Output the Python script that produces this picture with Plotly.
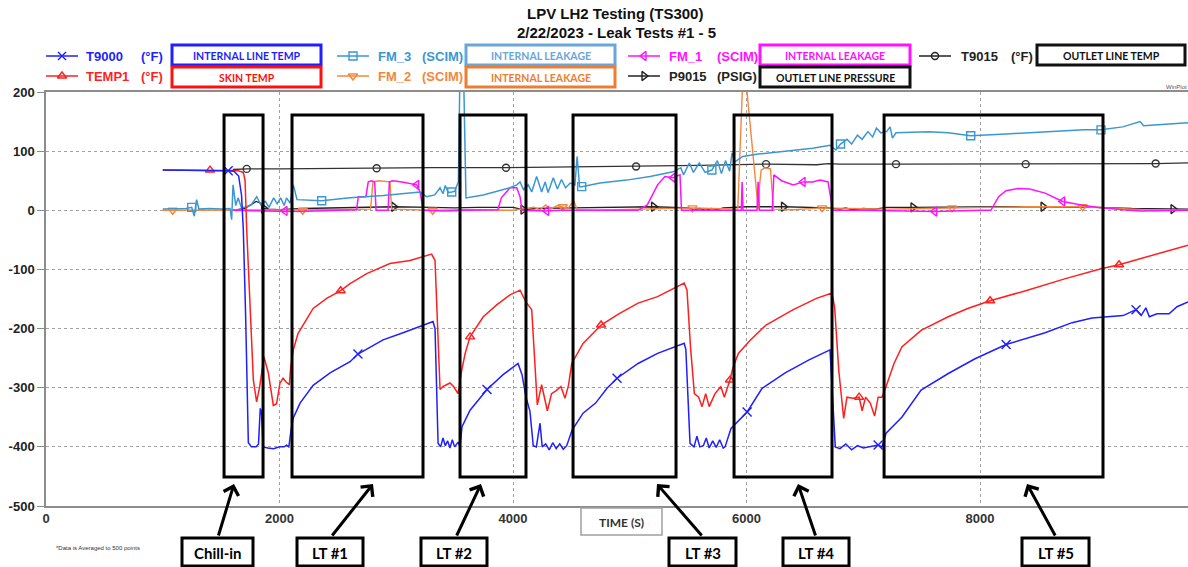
import plotly.graph_objects as go

W, H = 1188, 567

# ---------------- data: (time [s], value) ----------------
T9000 = [(1000,68),(1200,68),(1400,68),(1560,67),(1610,66),(1650,58),(1675,25),(1690,-33),(1710,-180),(1733,-393),
         (1760,-400),(1800,-400),(1820,-395),(1835,-335),(1845,-340),(1860,-400),(1900,-402),(1950,-403),(2000,-400),
         (2040,-400),(2060,-397),(2080,-400),(2100,-370),(2118,-351),(2176,-326),(2288,-296),(2433,-275),(2604,-256),
         (2672,-243),(2887,-219),(3058,-207),(3200,-196),(3315,-188),(3332,-200),(3358,-394),(3380,-400),(3400,-385),
         (3420,-398),(3440,-390),(3460,-402),(3480,-388),(3500,-400),(3530,-392),(3546,-400),(3563,-366),(3632,-338),
         (3777,-303),(3915,-278),(4043,-259),(4077,-278),(4110,-315),(4145,-340),(4173,-398),(4200,-400),(4231,-360),
         (4250,-400),(4280,-395),(4310,-405),(4340,-393),(4370,-403),(4400,-395),(4430,-404),(4460,-398),(4505,-372),
         (4600,-343),(4707,-326),(4805,-301),(4891,-284),(5071,-259),(5238,-242),(5466,-225),(5480,-235),(5516,-394),
         (5550,-400),(5575,-382),(5600,-400),(5630,-398),(5655,-385),(5680,-402),(5710,-390),(5740,-401),(5770,-388),
         (5800,-402),(5816,-400),(5867,-369),(6005,-341),(6133,-301),(6331,-275),(6535,-253),(6715,-236),(6735,-300),
         (6760,-400),(6800,-403),(6850,-395),(6900,-405),(6950,-398),(7000,-402),(7050,-400),(7127,-397),(7160,-400),
         (7195,-377),(7330,-350),(7495,-304),(7728,-276),(7957,-251),(8223,-227),(8557,-207),(8788,-190),(8959,-182),
         (9225,-178),(9336,-168),(9380,-178),(9420,-165),(9450,-180),(9516,-175),(9619,-175),(9687,-163),(9781,-155)]
T9000_MARK = [1560, 2672, 3777, 4891, 6005, 7127, 8223, 9336]

TEMP1 = [(1000,68),(1200,68),(1405,68),(1560,68),(1645,67),(1690,64),(1705,50),(1719,-33),(1747,-146),(1776,-287),
         (1804,-324),(1830,-298),(1867,-248),(1904,-275),(1947,-330),(1975,-327),(2004,-292),(2030,-284),(2055,-290),
         (2084,-295),(2096,-265),(2118,-236),(2159,-208),(2218,-189),(2288,-166),(2404,-149),(2524,-136),(2604,-124),
         (2747,-107),(2946,-90),(3118,-85),(3303,-74),(3332,-85),(3375,-303),(3400,-298),(3430,-295),(3460,-292),
         (3490,-298),(3529,-310),(3560,-271),(3590,-242),(3632,-214),(3745,-180),(3860,-160),(3974,-143),(4060,-135),
         (4110,-155),(4160,-168),(4208,-329),(4245,-295),(4294,-339),(4330,-310),(4370,-305),(4410,-298),(4445,-318),
         (4475,-296),(4503,-259),(4600,-225),(4754,-194),(4906,-175),(5071,-157),(5238,-146),(5371,-132),(5466,-123),
         (5490,-135),(5520,-231),(5553,-310),(5590,-316),(5619,-332),(5650,-310),(5680,-332),(5730,-310),(5780,-298),
         (5810,-316),(5858,-287),(5885,-265),(5930,-242),(6035,-219),(6167,-194),(6400,-168),(6599,-149),(6732,-140),
         (6755,-165),(6790,-271),(6832,-352),(6860,-316),(6910,-318),(6964,-316),(6990,-339),(7020,-316),(7060,-326),
         (7097,-348),(7127,-316),(7160,-316),(7195,-298),(7263,-259),(7330,-231),(7495,-203),(7727,-180),(7894,-166),
         (8086,-153),(8391,-136),(8724,-116),(9036,-99),(9190,-92),(9487,-75),(9781,-59)]
TEMP1_MARK = [1405, 2524, 3632, 4754, 5858, 6964, 8086, 9190]

FM_3 = [(1000,2),(1100,2),(1200,3),(1248,5),(1270,-10),(1290,18),(1310,2),(1400,3),(1500,2),(1576,3),(1590,-16),
        (1602,43),(1625,8),(1645,21),(1675,4),(1720,6),(1760,10),(1805,23),(1840,9),(1880,15),(1910,5),(1950,21),
        (1980,11),(2010,21),(2040,8),(2060,21),(2090,12),(2118,43),(2150,18),(2361,16),(2604,21),(2889,25),(3204,31),
        (3260,23),(3330,26),(3375,38),(3400,28),(3420,42),(3445,30),(3475,31),(3500,32),(3532,48),(3550,300),
        (3570,300),(3597,21),(3745,26),(3974,38),(4032,43),(4060,48),(4090,35),(4130,43),(4160,31),(4202,57),
        (4245,31),(4275,48),(4300,30),(4345,55),(4380,36),(4415,52),(4450,38),(4490,46),(4530,43),(4549,91),
        (4570,40),(4588,40),(4745,46),(4972,51),(5173,57),(5371,65),(5437,72),(5460,60),(5510,80),(5545,64),
        (5595,80),(5645,64),(5703,68),(5750,84),(5785,62),(5820,84),(5855,66),(5876,97),(5900,82),(5968,91),
        (6099,95),(6300,99),(6566,105),(6715,110),(6765,102),(6805,112),(6860,120),(6900,112),(6950,127),(6990,120),
        (7040,133),(7080,124),(7113,139),(7150,131),(7200,133),(7229,141),(7250,122),(7280,131),(7561,133),
        (7727,131),(7920,126),(8222,129),(8557,133),(8890,136),(9036,136),(9222,141),(9371,150),(9400,143),
        (9619,146),(9781,148)]
FM_3_MARK = [1248, 2361, 3475, 4588, 5703, 6805, 7920, 9036]

FM_2 = [(1000,0),(1085,0),(1500,0),(1700,1),(2000,0),(2199,0),(2500,1),(2780,2),(2800,48),(2850,50),(2946,48),
        (2960,2),(3100,1),(3312,0),(3600,1),(4000,0),(4180,5),(4230,1),(4280,9),(4320,2),(4380,8),(4426,6),
        (4470,3),(4520,16),(4550,1),(4700,0),(5000,1),(5300,2),(5537,4),(5700,3),(5925,2),(5975,260),(6100,2),
        (6110,40),(6125,68),(6160,72),(6205,70),(6230,2),(6400,1),(6648,4),(6900,3),(7200,2),(7500,3),(7760,4),
        (8100,5),(8400,6),(8879,6),(9100,4),(9400,1),(9781,0)]
FM_2_MARK = [1085, 2199, 3312, 4426, 5537, 6648, 7760, 8879]

FM_1 = [(1600,0),(1800,-1),(2000,-2),(2047,-1),(2100,-2),(2300,-1),(2600,0),(2660,1),(2675,23),(2740,23),
        (2760,48),(2790,50),(2815,48),(2827,0),(2930,0),(2941,48),(2970,50),(3050,48),(3175,43),(3204,31),
        (3230,0),(3400,-1),(3600,0),(3870,1),(3900,21),(3974,38),(4032,38),(4060,23),(4077,0),(4200,-1),
        (4288,-1),(4400,0),(4700,0),(5071,0),(5150,9),(5238,43),(5301,57),(5371,55),(5430,60),(5443,0),
        (5900,0),(5955,0),(5962,48),(5970,0),(6090,0),(6099,48),(6110,0),(6220,0),(6234,60),(6300,50),
        (6400,43),(6484,48),(6566,48),(6630,51),(6698,48),(6720,23),(6739,0),(7000,0),(7300,-1),(7612,-2),
        (8000,0),(8093,0),(8159,23),(8223,33),(8326,37),(8425,36),(8557,29),(8708,15),(8890,8),(9000,5),
        (9222,1),(9380,-1),(9781,0)]
FM_1_MARK = [2047, 3175, 4288, 5371, 6484, 7612, 8708]

P9015 = [(1600,0),(1700,3),(1760,10),(1800,15),(1840,12),(1865,3),(1900,2),(2000,1),(2200,3),(2500,4),
         (2800,5),(2978,6),(3300,5),(3500,4),(3700,5),(4000,5),(4086,1),(4200,3),(4500,4),(4800,5),(5204,6),
         (5500,4),(5550,1),(5600,3),(5650,0),(5700,3),(5750,1),(5800,4),(6000,6),(6317,6),(6500,5),(6700,4),
         (6800,2),(6850,4),(6900,1),(7000,3),(7100,2),(7200,5),(7426,5),(7800,6),(8200,6),(8540,6),(9000,5),
         (9300,3),(9653,2),(9781,2)]
P9015_MARK = [1865, 2978, 4086, 5204, 6317, 7426, 8540, 9653]

T9015 = [(1600,69),(1719,70),(2000,70),(2500,71),(2832,71),(3300,72),(3940,72),(4500,73),(5054,74),(5600,76),
         (6167,78),(6600,77),(6700,79),(6800,78),(7280,78),(7800,78),(8391,78),(9000,79),(9504,79),(9781,80)]
T9015_MARK = [1719, 2832, 3940, 5054, 6167, 7280, 8391, 9504]

# highlighted test windows (time start, time end) and labels
WINDOWS = [(1525, 1859), (2107, 3229), (3546, 4111), (4514, 5396), (5893, 6732), (7178, 9053)]
WINDOW_LABELS = ["Chill-in", "LT #1", "LT #2", "LT #3", "LT #4", "LT #5"]
WIN_Y = (-451, 161)

X_TICKS = [0, 2000, 4000, 6000, 8000]
Y_TICKS = [200, 100, 0, -100, -200, -300, -400, -500]
Y_RANGE = [-500, 200]
X_RANGE = [0, 9781]

# ---------------- colours ----------------
C_BLUE = '#1f1fff'
C_RED = '#ff1f1f'
C_CYAN = '#3b97d3'
C_ORANGE = '#f2883c'
C_MAG = '#ff10ff'
C_BLACK = '#222222'

FONT = 'Liberation Sans, Arial, sans-serif'
CAL = 'Lato, Carlito, sans-serif'

fig = go.Figure()


def add_series(pairs, marks, color, symbol, width=1.5, msize=8):
    xs = [p[0] for p in pairs]
    ys = [p[1] for p in pairs]
    fig.add_trace(go.Scatter(x=xs, y=ys, mode='lines', line=dict(color=color, width=width),
                             hoverinfo='skip', xaxis='x', yaxis='y'))
    mx = [p[0] for p in pairs if p[0] in marks]
    my = [p[1] for p in pairs if p[0] in marks]
    fig.add_trace(go.Scatter(x=mx, y=my, mode='markers',
                             marker=dict(symbol=symbol, size=msize, color=color,
                                         line=dict(color=color, width=1.4)),
                             hoverinfo='skip', xaxis='x', yaxis='y'))


add_series(T9015, T9015_MARK, '#333333', 'circle-open', 1.3, 7)
add_series(P9015, P9015_MARK, C_BLACK, 'triangle-right-open', 1.3)
add_series(FM_2, FM_2_MARK, C_ORANGE, 'triangle-down-open', 1.4)
add_series(FM_1, FM_1_MARK, C_MAG, 'triangle-left-open', 1.5)
add_series(FM_3, FM_3_MARK, C_CYAN, 'square-open', 1.5)
add_series(TEMP1, TEMP1_MARK, C_RED, 'triangle-up-open', 1.5)
add_series(T9000, T9000_MARK, C_BLUE, 'x-thin-open', 1.5, 9)

shapes = []
annotations = []

# test window rectangles (data coordinates)
for (t0, t1) in WINDOWS:
    shapes.append(dict(type='rect', xref='x', yref='y', x0=t0, x1=t1, y0=WIN_Y[0], y1=WIN_Y[1],
                       line=dict(color='black', width=3), fillcolor='rgba(0,0,0,0)', layer='above'))

# ---- overlay (pixel coordinates) decorations ----
def ptxt(x, y, text, size, color, anchor='left', family=FONT, bold=True):
    annotations.append(dict(xref='x2', yref='y2', x=x, y=y, text=text, showarrow=False,
                            xanchor=anchor, yanchor='middle', borderpad=0,
                            font=dict(family=family, size=size, color=color,
                                      weight='bold' if bold else 'normal')))


def pbox(x0, y0, x1, y1, color, width=3, text=None, tcolor=None, size=10):
    shapes.append(dict(type='rect', xref='x2', yref='y2', x0=x0, x1=x1, y0=y0, y1=y1,
                       line=dict(color=color, width=width), fillcolor='white', layer='above'))
    if text:
        ptxt((x0 + x1) / 2, (y0 + y1) / 2 + 0.5, text, size, tcolor or color, 'center', CAL)


# titles
ptxt(615, 13, 'LPV LH2 Testing (TS300)', 15, '#111', 'center')
ptxt(616, 32, '2/22/2023 - Leak Tests #1 - 5', 15, '#111', 'center')

# legend entries: name, unit, colour, symbol, line x0, y, name x, unit x, box x0, box x1, box text, box colour
LEG = [
    ('T9000', '(°F)', C_BLUE, 'x-thin-open', 46, 56, 85, 140, 172, 321, 'INTERNAL LINE TEMP', '#1f1fff'),
    ('TEMP1', '(°F)', C_RED, 'triangle-up-open', 46, 76, 85, 140, 172, 321, 'SKIN TEMP', '#ff1010'),
    ('FM_3', '(SCIM)', C_CYAN, 'square-open', 337, 56, 377, 421, 466, 615, 'INTERNAL LEAKAGE', '#6aa6da'),
    ('FM_2', '(SCIM)', C_ORANGE, 'triangle-down-open', 337, 76, 377, 421, 466, 615, 'INTERNAL LEAKAGE', '#ee7d32'),
    ('FM_1', '(SCIM)', C_MAG, 'triangle-left-open', 628, 56, 668, 716, 760, 910, 'INTERNAL LEAKAGE', '#ff10ff'),
    ('P9015', '(PSIG)', C_BLACK, 'triangle-right-open', 628, 76, 668, 716, 760, 910, 'OUTLET LINE PRESSURE', '#111111'),
    ('T9015', '(°F)', C_BLACK, 'circle-open', 919, 56, 960, 1010, 1037, 1185, 'OUTLET LINE TEMP', '#111111'),
]
for name, unit, col, sym, lx, ly, nx, ux, bx0, bx1, btxt, bcol in LEG:
    fig.add_trace(go.Scatter(x=[lx, lx + 32], y=[ly, ly], mode='lines', line=dict(color=col, width=1.5),
                             xaxis='x2', yaxis='y2', hoverinfo='skip'))
    fig.add_trace(go.Scatter(x=[lx + 16], y=[ly], mode='markers',
                             marker=dict(symbol=sym, size=7 if sym == 'circle-open' else 8, color=col,
                                         line=dict(color=col, width=1.4)),
                             xaxis='x2', yaxis='y2', hoverinfo='skip'))
    ptxt(nx, ly, name, 13, col)
    ptxt(ux, ly, unit, 13, col)
    by0 = ly - 11 if ly < 66 else ly - 9
    pbox(bx0, by0, bx1, by0 + 20, bcol, 3, btxt, bcol, 10.5)

ptxt(1188, 87, 'WinPlot', 6, '#555', 'right', FONT, False)

# time label box
pbox(581, 508, 662, 535, '#a0a0a0', 1.5, 'TIME (S)', '#333', 12)

# footnote
ptxt(55, 548, '*Data is Averaged to 500 points', 6, '#333', 'left', FONT, False)

# callouts
CALLOUT_BOX_X = [(182, 253), (297, 363), (421, 487), (669, 736), (783, 849), (1022, 1089)]
ARROW_TAIL_X = [218, 331, 456, 703, 816, 1056]
ARROW_TIP_X = [234, 373, 481, 657, 798, 1027]
for (bx0, bx1), lab, tx, hx in zip(CALLOUT_BOX_X, WINDOW_LABELS, ARROW_TAIL_X, ARROW_TIP_X):
    pbox(bx0, 538, bx1, 566, 'black', 3, lab, 'black', 15)
    annotations.append(dict(xref='x2', yref='y2', x=hx, y=484, ax=tx, ay=537, axref='x2', ayref='y2',
                            text='', showarrow=True, arrowhead=4, arrowsize=1, arrowwidth=3,
                            arrowcolor='black', standoff=0, startstandoff=0))

fig.update_layout(
    width=W, height=H, margin=dict(l=0, r=0, t=0, b=0, pad=0), autosize=False,
    paper_bgcolor='white', plot_bgcolor='rgba(0,0,0,0)', showlegend=False,
    xaxis=dict(domain=[46 / W, 1], range=X_RANGE, tickvals=X_TICKS, ticktext=[str(v) for v in X_TICKS],
               showgrid=True, gridcolor='#a0a0a0', griddash='dot', gridwidth=1, automargin=False,
               showline=True, linecolor='#8c8c8c', linewidth=1.5, mirror=True, zeroline=False,
               ticks='', tickfont=dict(family=FONT, size=13, color='#333', weight='bold'), anchor='y'),
    yaxis=dict(domain=[(H - 506) / H, (H - 92) / H], range=Y_RANGE, automargin=False,
               tickvals=Y_TICKS, ticktext=[str(v) for v in Y_TICKS],
               showgrid=True, gridcolor='#a0a0a0', griddash='dot', gridwidth=1,
               showline=True, linecolor='#8c8c8c', linewidth=1.5, mirror=False, zeroline=False,
               ticks='outside', ticklen=7, tickcolor='#8c8c8c',
               tickfont=dict(family=FONT, size=13, color='#222', weight='bold'), anchor='x'),
    xaxis2=dict(domain=[0, 1], range=[0, W], visible=False, anchor='y2', fixedrange=True, automargin=False),
    yaxis2=dict(domain=[0, 1], range=[H, 0], visible=False, anchor='x2', fixedrange=True, automargin=False),
    shapes=shapes, annotations=annotations,
)

fig.write_html("out.html")
